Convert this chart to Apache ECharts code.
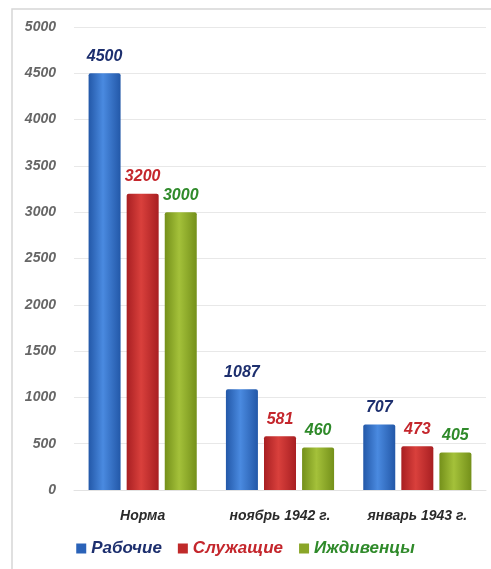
<!DOCTYPE html>
<html><head><meta charset="utf-8">
<script src="https://cdn.jsdelivr.net/npm/echarts@6/dist/echarts.min.js"></script>
<style>html,body{margin:0;padding:0;background:#fff}#c{width:491px;height:569px}</style>
</head><body><div id="c"></div>
<script>
const categories = ['Норма', 'ноябрь 1942 г.', 'январь 1943 г.'];
const seriesNames = ['Рабочие', 'Служащие', 'Иждивенцы'];
const workers = [4500, 1087, 707];
const employees = [3200, 581, 473];
const dependents = [3000, 460, 405];
const yTicks = [0, 500, 1000, 1500, 2000, 2500, 3000, 3500, 4000, 4500, 5000];

const chart = echarts.init(document.getElementById('c'));
function grad(dark, light) {
  return new echarts.graphic.LinearGradient(0, 0, 1, 0, [
    {offset: 0, color: dark}, {offset: 0.45, color: light}, {offset: 1, color: dark}
  ]);
}
const colors = [
  grad('#2358a8', '#4a8ae0'),
  grad('#a81f22', '#d9403c'),
  grad('#74901a', '#a4c13a')
];
const legendColors = ['#2a62b8', '#c02a2a', '#8aa628'];
const labelColors = ['#1d2f6e', '#c4262c', '#2f8a2a'];
const data = [workers, employees, dependents];
const font = 'Liberation Sans, Arial, sans-serif';

chart.setOption({
  animation: false,
  graphic: [{type: 'rect', shape: {x: 12, y: 9, width: 500, height: 600},
    style: {fill: 'none', stroke: '#d6d6d6', lineWidth: 1.5}}],
  grid: {left: 74, right: 5, top: 27, bottom: 79, containLabel: false},
  legend: {
    bottom: 7, left: 'center', itemWidth: 10, itemHeight: 10, itemGap: 16,
    icon: 'rect',
    data: seriesNames.map((n, i) => ({name: n, itemStyle: {color: legendColors[i]},
      textStyle: {color: labelColors[i]}})),
    textStyle: {fontSize: 17, fontStyle: 'italic', fontWeight: 'bold', fontFamily: font}
  },
  xAxis: {
    type: 'category', data: categories,
    axisLine: {lineStyle: {color: '#e2e2e2'}}, axisTick: {show: false},
    axisLabel: {interval: 0, hideOverlap: false, color: '#2a2a2a', fontSize: 14, fontStyle: 'italic',
      fontWeight: 'bold', fontFamily: font, margin: 19}
  },
  yAxis: {
    type: 'value', min: 0, max: 5000, interval: 500,
    axisLine: {show: false}, axisTick: {show: false},
    splitLine: {lineStyle: {color: '#e8e8e8'}},
    axisLabel: {color: '#666', fontSize: 14, fontStyle: 'italic', fontWeight: 'bold', fontFamily: font, margin: 18,
      formatter: v => yTicks.includes(v) ? String(v) : ''}
  },
  series: seriesNames.map((n, i) => ({
    name: n, type: 'bar', data: data[i], barWidth: 32, barGap: '19%',
    itemStyle: {color: colors[i], borderRadius: [2, 2, 0, 0]},
    label: {show: true, position: 'top', distance: 9, color: labelColors[i], fontSize: 16,
      fontStyle: 'italic', fontWeight: 'bold', fontFamily: font}
  }))
});
</script></body></html>
